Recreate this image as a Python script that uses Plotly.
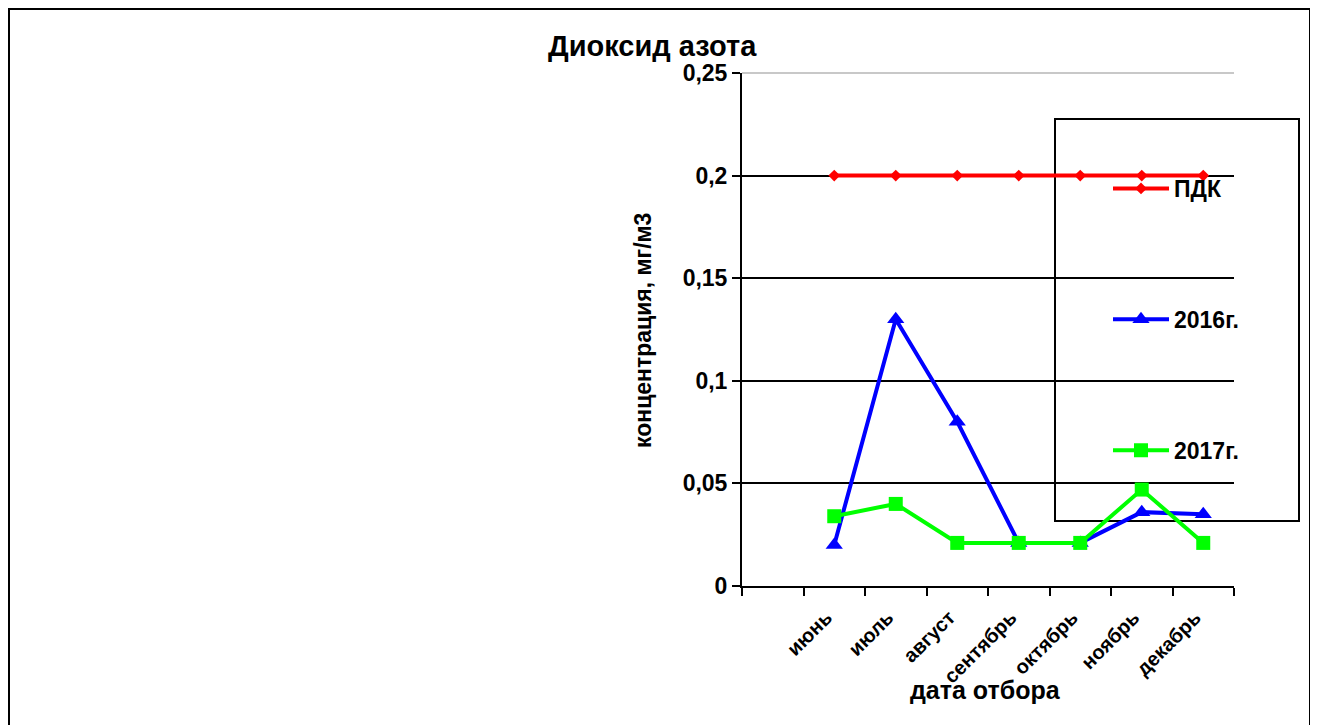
import plotly.graph_objects as go

categories = [" ", "июнь", "июль", "август", "сентябрь", "октябрь", "ноябрь", "декабрь"]
pdk = [None, 0.2, 0.2, 0.2, 0.2, 0.2, 0.2, 0.2]
y2016 = [None, 0.02, 0.13, 0.08, 0.021, 0.021, 0.036, 0.035]
y2017 = [None, 0.034, 0.040, 0.021, 0.021, 0.021, 0.047, 0.021]
series_names = ["ПДК", "2016г.", "2017г."]
y_ticks = [0, 0.05, 0.1, 0.15, 0.2, 0.25]
y_tick_text = ["0", "0,05", "0,1", "0,15", "0,2", "0,25"]

FONT = "Liberation Sans, Arial, sans-serif"
OFF = 8  # page body margin
W, H = 1318, 725
L, T = 742 - OFF, 73 - OFF
pw, ph = 492, 513
R = W - L - pw
B = H - T - ph

def px_x(x):
    # x in page pixels
    return (x - OFF - L) / pw

def px_y(y):
    return (H - B - (y - OFF)) / ph

fig = go.Figure()
fig.add_trace(go.Scatter(x=categories, y=pdk, name=series_names[0], mode="lines+markers",
                         line=dict(color="#ff0000", width=4),
                         marker=dict(symbol="diamond", size=9, color="#ff0000"),
                         legendgroup="a"))
fig.add_trace(go.Scatter(x=categories, y=y2016, name=series_names[1], mode="lines+markers",
                         line=dict(color="#0000ff", width=4),
                         marker=dict(symbol="triangle-up", size=15, color="#0000ff"),
                         legendgroup="b"))
fig.add_trace(go.Scatter(x=categories, y=y2017, name=series_names[2], mode="lines+markers",
                         line=dict(color="#00ff00", width=4),
                         marker=dict(symbol="square", size=14, color="#00ff00"),
                         legendgroup="c"))

fig.update_layout(
    width=W, height=H,
    margin=dict(l=L, r=R, t=T, b=B, autoexpand=False),
    paper_bgcolor="white", plot_bgcolor="white",
    font=dict(family=FONT, color="black", size=18, weight="bold"),
    separators=", ",
    showlegend=True,
    legend=dict(x=px_x(1108), y=px_y(167), xanchor="left", yanchor="top",
                bgcolor="rgba(0,0,0,0)", borderwidth=0,
                font=dict(family=FONT, size=23, color="black", weight="bold"),
                tracegroupgap=98, itemwidth=56),
    xaxis=dict(type="category", categoryorder="array", categoryarray=categories,
               range=[-0.5, 7.5], tickson="boundaries", ticks="outside", ticklen=8,
               tickwidth=2, tickcolor="black", showline=True, linecolor="black", linewidth=2,
               showgrid=False, tickangle=-45, ticklabelstandoff=10, ticklabelshift=-8,
               tickfont=dict(family=FONT, size=20, color="black", weight="bold")),
    yaxis=dict(range=[0, 0.25], tickvals=y_ticks, ticktext=y_tick_text,
               ticks="outside", ticklen=8, tickwidth=2, tickcolor="black",
               showline=True, linecolor="black", linewidth=2,
               showgrid=True, gridcolor="black", gridwidth=1.5, zeroline=False,
               tickfont=dict(family=FONT, size=23, color="black", weight="bold")),
    shapes=[
        dict(type="rect", xref="paper", yref="paper",
             x0=px_x(1055), x1=px_x(1299), y0=px_y(521), y1=px_y(119),
             line=dict(color="black", width=2), fillcolor="white", layer="between"),
        dict(type="line", xref="paper", yref="paper", x0=0, x1=1, y0=1, y1=1,
             line=dict(color="#c8c8c8", width=2), layer="between"),
        dict(type="rect", xref="paper", yref="paper",
             x0=px_x(9), x1=px_x(1310), y0=px_y(740), y1=px_y(9),
             line=dict(color="black", width=2), fillcolor="rgba(0,0,0,0)", layer="above"),
    ],
    annotations=[
        dict(text="Диоксид азота", xref="paper", yref="paper", x=px_x(652), y=px_y(46),
             xanchor="center", yanchor="middle", showarrow=False,
             font=dict(family=FONT, size=29, color="black", weight="bold")),
        dict(text="концентрация, мг/м3", xref="paper", yref="paper", x=px_x(643), y=px_y(331),
             xanchor="center", yanchor="middle", showarrow=False, textangle=-90,
             font=dict(family=FONT, size=23, color="black", weight="bold")),
        dict(text="дата отбора", xref="paper", yref="paper", x=px_x(985), y=px_y(690),
             xanchor="center", yanchor="middle", showarrow=False,
             font=dict(family=FONT, size=25, color="black", weight="bold")),
    ],
)

fig.write_html("out.html")
